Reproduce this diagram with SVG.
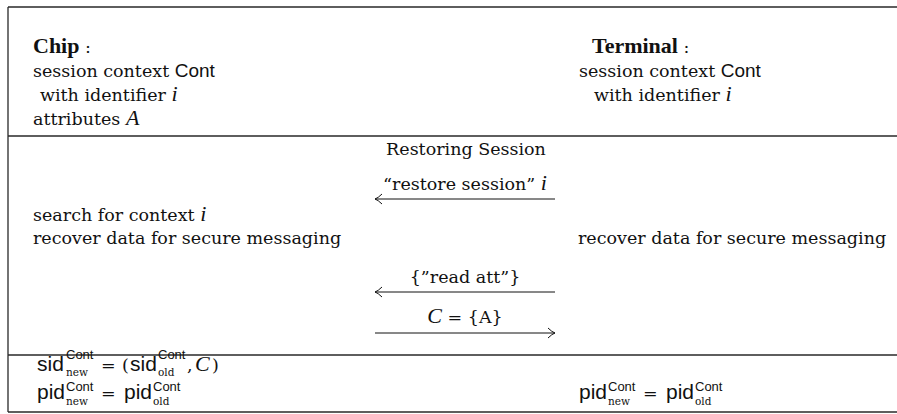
<svg xmlns="http://www.w3.org/2000/svg" width="897" height="414" viewBox="0 0 897 414">
<style>
.rm{font-family:'DejaVu Serif',serif;font-size:17.5px;fill:#111}
.bf{font-family:'Liberation Serif',serif;font-size:22px;font-weight:bold}
.it{font-family:'Liberation Serif',serif;font-size:22px;font-style:italic}
.sf{font-family:'Liberation Sans',sans-serif;font-size:19px}
.op{font-family:'Liberation Sans',sans-serif;font-size:21px}
.sup{font-family:'Liberation Sans',sans-serif;font-size:13px}
.sub{font-size:10.5px}
.rule{stroke:#2a2a2a;stroke-width:1.3;fill:none}
.arr{stroke:#111;stroke-width:1;fill:none}
</style>
<rect width="897" height="414" fill="#fff"/>
<g id="table">
<path class="rule" d="M8,7 H897 M8,7 V412 M8,136 H897 M8,355 H897 M8,412 H897"/>
</g>
<g id="chip-header" class="rm">
<text x="33" y="53"><tspan class="bf">Chip</tspan> :</text>
<text x="33" y="77">session context <tspan class="sf">Cont</tspan></text>
<text x="40" y="101">with identifier <tspan class="it">i</tspan></text>
<text x="33" y="125">attributes <tspan class="it">A</tspan></text>
</g>
<g id="terminal-header" class="rm">
<text x="592" y="53"><tspan class="bf">Terminal</tspan> :</text>
<text x="579" y="77">session context <tspan class="sf">Cont</tspan></text>
<text x="594" y="101">with identifier <tspan class="it">i</tspan></text>
</g>
<g id="phase-title" class="rm">
<text x="466" y="155" text-anchor="middle">Restoring Session</text>
</g>
<g id="chip-steps" class="rm">
<text x="33" y="221">search for context <tspan class="it">i</tspan></text>
<text x="33" y="244">recover data for secure messaging</text>
</g>
<g id="terminal-steps" class="rm">
<text x="578" y="244">recover data for secure messaging</text>
</g>
<g id="connectors" class="rm">
<g class="arr">
<path d="M555,199 H375"/>
<path d="M382,194 Q378,198 375,199 Q378,200 382,204"/>
<path d="M555,292 H375"/>
<path d="M382,287 Q378,291 375,292 Q378,293 382,297"/>
<path d="M375,333 H555"/>
<path d="M548,328 Q552,332 555,333 Q552,334 548,338"/>
</g>
<text x="465" y="190" text-anchor="middle">“restore session” <tspan class="it">i</tspan></text>
<text x="465" y="283" text-anchor="middle">{”read att”}</text>
<text x="465" y="323" text-anchor="middle"><tspan class="it">C</tspan> = {A}</text>
</g>
<g id="chip-result" class="rm">
<text class="op" x="37" y="371">sid</text>
<text class="sup" x="66" y="359">Cont</text>
<text class="sub" x="66" y="376">new</text>
<text x="101" y="371">=</text>
<text x="122" y="371">(</text>
<text class="op" x="130" y="371">sid</text>
<text class="sup" x="158" y="359">Cont</text>
<text class="sub" x="158" y="376">old</text>
<text x="187" y="371">,</text>
<text class="it" x="195" y="371">C</text>
<text x="212" y="371">)</text>
<text class="op" x="37" y="399">pid</text>
<text class="sup" x="66" y="390.5">Cont</text>
<text class="sub" x="66" y="405">new</text>
<text x="101" y="399">=</text>
<text class="op" x="124" y="399">pid</text>
<text class="sup" x="153" y="390.5">Cont</text>
<text class="sub" x="153" y="405">old</text>
</g>
<g id="terminal-result" class="rm">
<text class="op" x="579" y="399">pid</text>
<text class="sup" x="608" y="390.5">Cont</text>
<text class="sub" x="608" y="405">new</text>
<text x="643" y="399">=</text>
<text class="op" x="666" y="399">pid</text>
<text class="sup" x="695" y="390.5">Cont</text>
<text class="sub" x="695" y="405">old</text>
</g>
</svg>
